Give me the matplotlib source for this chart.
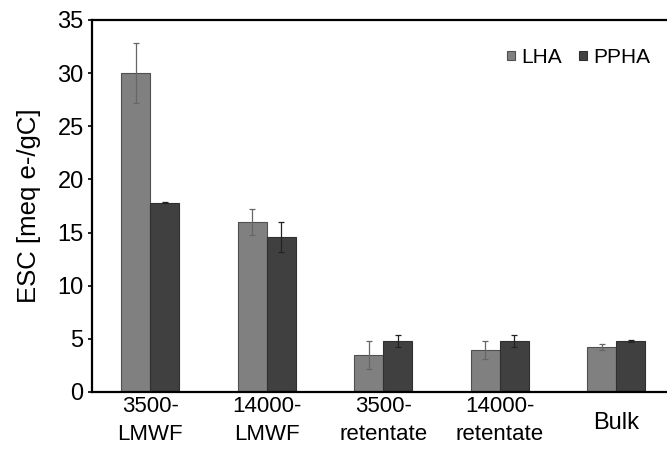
import matplotlib
matplotlib.use('Agg')
import matplotlib.pyplot as plt
import matplotlib.transforms as mtransforms
import numpy as np

plt.rcParams['font.family'] = ['Liberation Sans', 'DejaVu Sans']

categories = ["3500-\nLMWF", "14000-\nLMWF", "3500-\nretentate", "14000-\nretentate", "Bulk"]
lha = [30.0, 16.0, 3.45, 3.95, 4.2]
lha_err = [2.85, 1.2, 1.3, 0.85, 0.28]
ppha = [17.8, 14.6, 4.8, 4.8, 4.8]
ppha_err = [0.05, 1.4, 0.6, 0.6, 0.1]

fig = plt.figure(figsize=(6.67, 4.54), dpi=100)
ax = fig.add_axes([0.138, 0.1366, 0.873, 0.8195])

x = np.arange(len(categories))
w = 0.25
ax.bar(x - w/2, lha, w, color='#808080', edgecolor='#505050', linewidth=0.8,
       label='LHA')
ax.bar(x + w/2, ppha, w, color='#404040', edgecolor='#303030', linewidth=0.8,
       label='PPHA')
ax.errorbar(x - w/2, lha, yerr=lha_err, fmt='none', ecolor='#666666',
            elinewidth=0.9, capsize=2.5, capthick=0.9)
ax.errorbar(x + w/2, ppha, yerr=ppha_err, fmt='none', ecolor='#222222',
            elinewidth=0.9, capsize=2.5, capthick=0.9)

ax.set_xlim(-0.5, 4.5)
ax.set_ylim(0, 35)
ax.set_yticks(np.arange(0, 36, 5))
ax.set_xticks(x)
ax.set_xticklabels(categories, fontsize=16, linespacing=1.45)
ax.tick_params(axis='x', length=0, pad=3)
ax.tick_params(axis='y', labelsize=17, length=3, width=1.2, direction='out', pad=3)
ax.set_ylabel("ESC [meq e-/gC]", fontsize=18.5, labelpad=12)

# single-line label sits between the two lines of the others
bulk = ax.get_xticklabels()[-1]
bulk.set_fontsize(17)
bulk.set_transform(mtransforms.offset_copy(bulk.get_transform(), fig=fig,
                                           x=0, y=-16, units='dots'))

for s in ['top', 'bottom', 'left']:
    ax.spines[s].set_linewidth(1.6)
ax.spines['right'].set_visible(False)

ax.legend(loc='upper right', bbox_to_anchor=(0.99, 0.975), ncol=2, frameon=False,
          fontsize=15, handlelength=0.35, handleheight=0.35, handletextpad=0.3,
          columnspacing=0.85)

plt.savefig("out.png")
